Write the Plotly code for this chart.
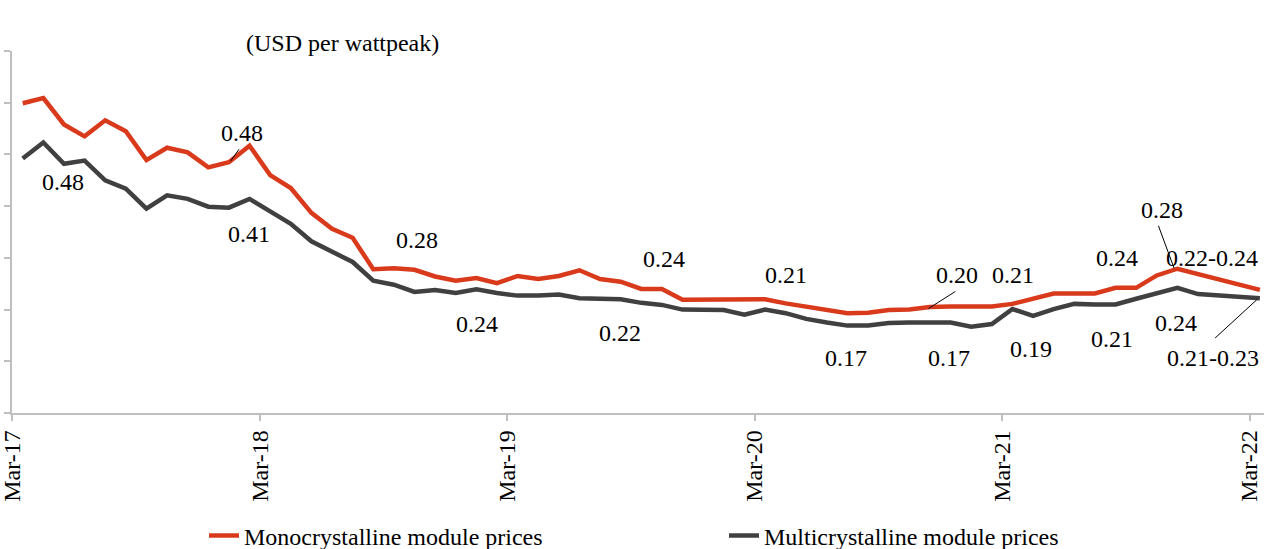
import plotly.graph_objects as go

# Month index 0 = Mar-17 ... 60 = Mar-22
month_index = list(range(61))
tick_positions = [-0.5, 11.5, 23.5, 35.5, 47.5, 59.5]
tick_labels = ["Mar-17", "Mar-18", "Mar-19", "Mar-20", "Mar-21", "Mar-22"]

mono_prices = [0.599, 0.609, 0.558, 0.535, 0.566, 0.545, 0.489, 0.513, 0.504, 0.475,
               0.485, 0.517, 0.460, 0.435, 0.387, 0.356, 0.339, 0.278, 0.280, 0.277,
               0.264, 0.256, 0.261, 0.251, 0.265, 0.259, 0.265, 0.276, 0.259, 0.254,
               0.240, 0.240, 0.219, 0.219, 0.219, 0.219, 0.220, 0.212, 0.206, 0.200,
               0.193, 0.194, 0.199, 0.200, 0.205, 0.206, 0.206, 0.206, 0.211, 0.221,
               0.231, 0.231, 0.231, 0.242, 0.242, 0.266, 0.279, None, None, None,
               0.238]

multi_prices = [0.492, 0.523, 0.482, 0.488, 0.450, 0.434, 0.395, 0.421, 0.414, 0.399,
                0.397, 0.414, 0.390, 0.366, 0.332, 0.313, 0.292, 0.256, 0.248, 0.234,
                0.238, 0.232, 0.239, 0.232, 0.227, 0.227, 0.229, 0.222, 0.220, 0.220,
                0.213, 0.209, 0.200, 0.200, 0.199, 0.190, 0.200, 0.193, 0.182, 0.175,
                0.169, 0.169, 0.174, 0.175, 0.175, 0.175, 0.167, 0.172, 0.201, 0.188,
                0.201, 0.211, 0.210, 0.210, 0.221, 0.232, 0.242, 0.230, None, None,
                0.222]

# Data labels: (text, x, y)
label_texts = ["0.48", "0.48", "0.41", "0.28", "0.24", "0.22", "0.24", "0.21", "0.20",
               "0.21", "0.17", "0.17", "0.19", "0.24", "0.21", "0.28", "0.22-0.24",
               "0.24", "0.21-0.23"]
label_x = [10.62, 1.96, 10.95, 19.12, 22.01, 28.99, 31.10, 37.03, 45.32,
           48.04, 39.94, 44.93, 48.91, 53.08, 52.84, 55.26, 57.68,
           55.94, 57.73]
label_y = [0.541, 0.446, 0.347, 0.335, 0.172, 0.155, 0.298, 0.267, 0.266,
           0.267, 0.107, 0.107, 0.124, 0.300, 0.143, 0.393, 0.300,
           0.174, 0.107]

# Leader lines (x0, y0, x1, y1)
leaders = [(10.08, 0.487, 10.49, 0.510),
           (43.93, 0.202, 45.23, 0.235),
           (55.08, 0.362, 55.84, 0.280),
           (57.83, 0.145, 59.85, 0.219)]

MONO = "#d93a1c"
MULTI = "#404040"
AXIS = "#bfbfbf"
FONT = "Liberation Serif"
FS = 24

fig = go.Figure()
fig.add_trace(go.Scatter(x=month_index, y=mono_prices, mode="lines",
                         name="Monocrystalline module prices",
                         line=dict(color=MONO, width=4.5), connectgaps=True))
fig.add_trace(go.Scatter(x=month_index, y=multi_prices, mode="lines",
                         name="Multicrystalline module prices",
                         line=dict(color=MULTI, width=4.5), connectgaps=True))

for t, x, y in zip(label_texts, label_x, label_y):
    fig.add_annotation(x=x, y=y, text=t, showarrow=False,
                       font=dict(family=FONT, size=FS, color="black"))

for x0, y0, x1, y1 in leaders:
    fig.add_shape(type="line", x0=x0, y0=y0, x1=x1, y1=y1,
                  line=dict(color="black", width=1))

fig.add_annotation(xref="paper", yref="paper", x=(244 - 12) / 1252, y=(413 - 28) / 362,
                   text="(USD per wattpeak)", showarrow=False,
                   font=dict(family=FONT, size=FS, color="black"))

fig.update_layout(
    width=1266, height=549,
    margin=dict(l=12, r=2, t=51, b=136, autoexpand=False),
    paper_bgcolor="white", plot_bgcolor="white",
    font=dict(family=FONT, size=FS, color="black"),
    showlegend=True,
    legend=dict(orientation="h", x=(204 - 12) / 1252, y=(413 - 536) / 362,
                xanchor="left", yanchor="middle",
                entrywidth=475, entrywidthmode="pixels",
                font=dict(family=FONT, size=FS, color="black"),
                bgcolor="rgba(0,0,0,0)"),
    xaxis=dict(range=[-0.52, 60.2], tickmode="array", tickvals=tick_positions,
               ticktext=tick_labels, tickangle=-90, showgrid=False, zeroline=False,
               showline=True, linecolor=AXIS, linewidth=1.5, automargin=False,
               ticklabeloverflow="allow",
               ticks="outside", ticklen=6, tickcolor=AXIS, tickwidth=1.5,
               tickfont=dict(family=FONT, size=FS, color="black")),
    yaxis=dict(range=[0, 0.7], dtick=0.1, showticklabels=False, showgrid=False,
               zeroline=False, showline=True, linecolor=AXIS, linewidth=1.5,
               automargin=False,
               ticks="outside", ticklen=6, tickcolor=AXIS, tickwidth=1.5),
)

fig.write_html("out.html", config={"displayModeBar": False},
               post_script="document.body.style.margin='0';document.body.style.overflow='hidden';")
